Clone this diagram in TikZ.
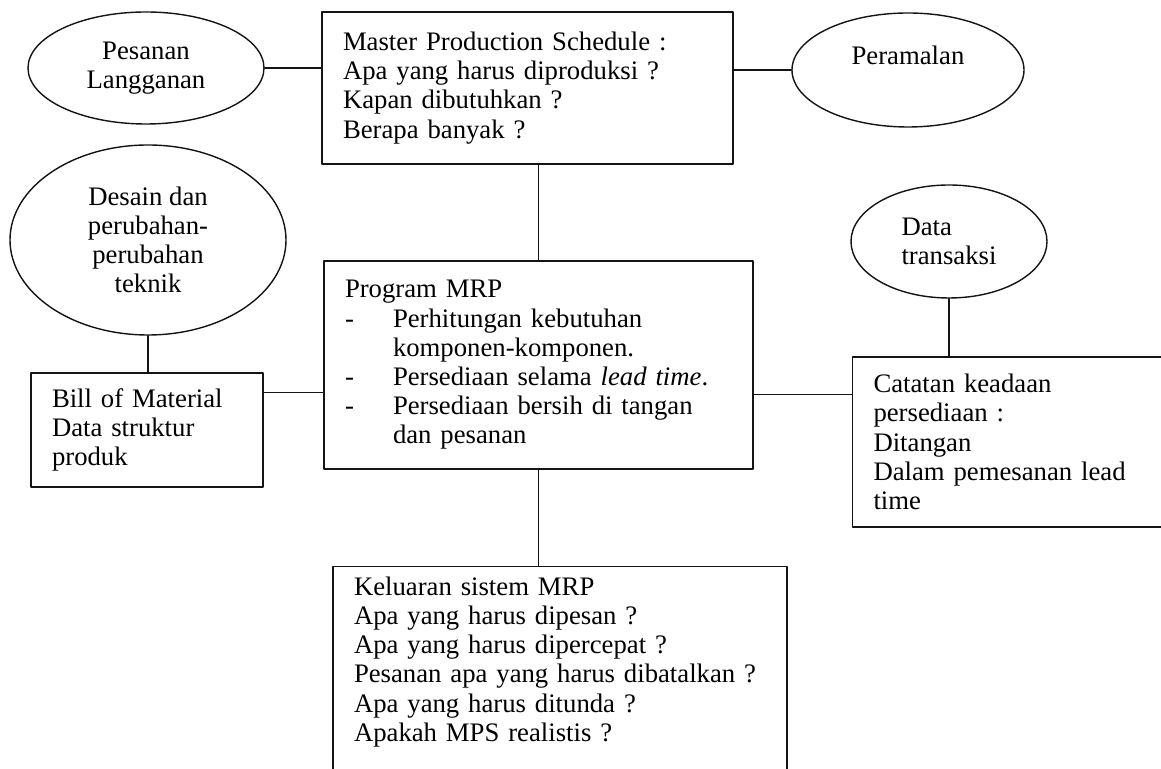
\documentclass[tikz,border=0pt]{standalone}
\usepackage{fontspec}
\setmainfont{Liberation Serif}
\usetikzlibrary{shapes.geometric}
\definecolor{figink}{HTML}{141414}

\newcommand{\itemdash}{\makebox[1.2cm][l]{-}}

\begin{document}
\begin{tikzpicture}[
  x=1cm, y=1cm,
  line width=1pt, line cap=round, line join=round,
  font=\fontsize{19}{20.8}\selectfont,
  blk/.style = {draw=figink, line width=1pt, rectangle, align=left,
                inner xsep=0.525cm, inner ysep=7pt, anchor=center},
  oval/.style = {draw=figink, line width=1pt, ellipse, align=center,
                 inner sep=1pt, anchor=center},
  lnk/.style = {draw=figink, line width=1pt}
]

\clip (0,0) rectangle (29.025,19.225);

% 上排
\node[oval, minimum width=5.9cm, minimum height=2.8cm] (pesanan) at (3.65,17.525) {Pesanan\\Langganan};
\node[blk, text width=9.225cm, minimum height=3.8cm] (mps) at (13.1875,17.025)
  {Master Production Schedule :\\Apa yang harus diproduksi ?\\Kapan dibutuhkan ?\\Berapa banyak ?};
\node[oval, minimum width=5.8cm, minimum height=2.85cm] (ramal) at (22.7,17.475) {Peramalan\\\phantom{P}};

% 中排
\node[oval, minimum width=6.9cm, minimum height=4.75cm] (desain) at (3.7,13.225)
  {Desain dan\\perubahan-\\perubahan\\teknik};
\node[oval, align=left, minimum width=4.9cm, minimum height=2.825cm] (data) at (23.725,13.1875) {Data\\transaksi};
\node[blk, text width=9.675cm, minimum height=5.2cm] (prog) at (13.4625,10.1)
  {Program MRP\\
   \itemdash Perhitungan kebutuhan\\
   \hspace*{1.2cm}komponen-komponen.\\
   \itemdash Persediaan selama \textit{lead time}.\\
   \itemdash Persediaan bersih di tangan\\
   \hspace*{1.2cm}dan pesanan};
\node[blk, text width=4.75cm, minimum height=2.85cm] (bom) at (3.675,8.475)
  {Bill of Material\\Data struktur\\produk};
\node[blk, text width=7.0cm, minimum height=4.25cm] (catat) at (25.3375,8.175)
  {Catatan keadaan\\persediaan :\\Ditangan\\Dalam pemesanan lead\\time};

% 下排
\node[blk, text width=10.3cm, anchor=north] (kel) at (14.0,5.075)
  {Keluaran sistem MRP\\Apa yang harus dipesan ?\\Apa yang harus dipercepat ?\\
   Pesanan apa yang harus dibatalkan ?\\Apa yang harus ditunda ?\\Apakah MPS realistis ?\\[1.5cm]\mbox{}};

% 连线
\draw[lnk] (pesanan.east) -- (pesanan.east -| mps.west);
\draw[lnk] (ramal.west) -- (ramal.west -| mps.east);
\draw[lnk] (prog.north) -- (prog.north |- mps.south);
\draw[lnk] (desain.south) -- (desain.south |- bom.north);
\draw[lnk] ([yshift=-0.5cm]bom.north east) -- ([yshift=-0.5cm]bom.north east -| prog.west);
\draw[lnk] (data.south) -- (data.south |- catat.north);
\draw[lnk] ([yshift=-0.95cm]catat.north west) -- ([yshift=-0.95cm]catat.north west -| prog.east);
\draw[lnk] (prog.south) -- (prog.south |- kel.north);

\end{tikzpicture}
\end{document}
